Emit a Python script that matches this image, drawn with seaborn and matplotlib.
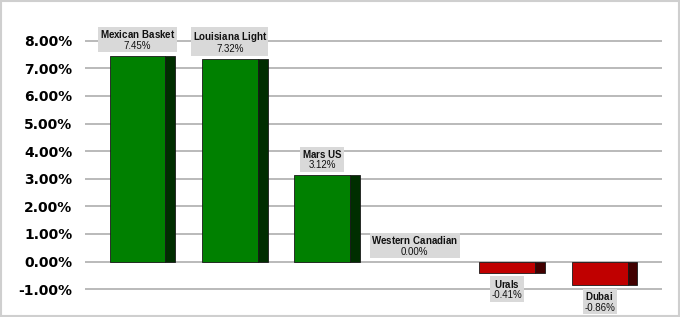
import matplotlib
matplotlib.use("Agg")
import matplotlib.pyplot as plt
import seaborn as sns
import pandas as pd
from matplotlib.patches import Rectangle

categories = ["Mexican Basket", "Louisiana Light", "Mars US", "Western Canadian", "Urals", "Dubai"]
values = [7.45, 7.32, 3.12, 0.00, -0.41, -0.86]
yticks = [-1, 0, 1, 2, 3, 4, 5, 6, 7, 8]

sns.set_theme(style="white")
plt.rcParams['font.family'] = ['DejaVu Sans']
plt.rcParams['mathtext.fontset'] = 'custom'
plt.rcParams['mathtext.rm'] = 'Liberation Sans'
plt.rcParams['mathtext.bf'] = 'Liberation Sans:bold'

df = pd.DataFrame({"crude": categories, "change": values})
main_pal = {c: ("#008000" if v >= 0 else "#C00000") for c, v in zip(categories, values)}
dark_pal = {c: ("#002E00" if v >= 0 else "#420000") for c, v in zip(categories, values)}

fig = plt.figure(figsize=(6.8, 3.17), dpi=100)
ax = fig.add_axes([85/680, (317-305)/317, 577/680, 291/317])

sns.barplot(data=df, x="crude", y="change", hue="crude", order=categories,
            hue_order=categories, palette=main_pal, legend=False, width=0.71,
            saturation=1, ax=ax, zorder=3, edgecolor="#1a1a1a", linewidth=0.6)

px_per_unit = 92.6
dark_w = 10 / px_per_unit
patches = sorted(ax.patches, key=lambda p: p.get_x())
for p, cat in zip(patches, categories):
    x, w = p.get_x(), p.get_width()
    y, h = p.get_y(), p.get_height()
    if abs(h) < 1e-9:
        p.set_visible(False)
        continue
    p.set_width(w - dark_w)
    ax.add_patch(Rectangle((x + w - dark_w, y), dark_w, h, facecolor=dark_pal[cat],
                           edgecolor="#1a1a1a", linewidth=0.6, zorder=3))

# labels
for i, (cat, v) in enumerate(zip(categories, values)):
    xc = i - dark_w / 2
    if v >= 0:
        off, va = 5, "bottom"
    else:
        off, va = -5, "top"
    ax.annotate(f"$\\bf{{{cat.replace(' ', '~')}}}$\n{v:.2f}%", xy=(xc, v), xytext=(0, off),
                textcoords="offset pixels", ha="center", va=va, fontsize=7,
                family="Liberation Sans", color="#111111", linespacing=1.05,
                bbox=dict(boxstyle="square,pad=0.15", facecolor="#D9D9D9", edgecolor="none"),
                zorder=5)

ax.set_xlim(-0.62, 5.62)
ax.set_ylim(-(305-261.6)/27.62, (261.6-14)/27.62)
ax.set_yticks(yticks)
ax.set_yticklabels([f"{t:.2f}%" for t in yticks], fontsize=10, fontweight="bold", color="black")
ax.tick_params(axis="y", length=0, pad=9)
ax.set_xticks([])
ax.set_xlabel("")
ax.set_ylabel("")
for s in ax.spines.values():
    s.set_visible(False)
ax.yaxis.grid(True, color="#B4B4B4", linewidth=1.3, zorder=0)
ax.set_axisbelow(True)

fig.patches.append(Rectangle((0.0015, 0.003), 0.997, 0.994, transform=fig.transFigure,
                             fill=False, edgecolor="#CFCFCF", linewidth=1.5))

fig.savefig("out.png", dpi=100)
